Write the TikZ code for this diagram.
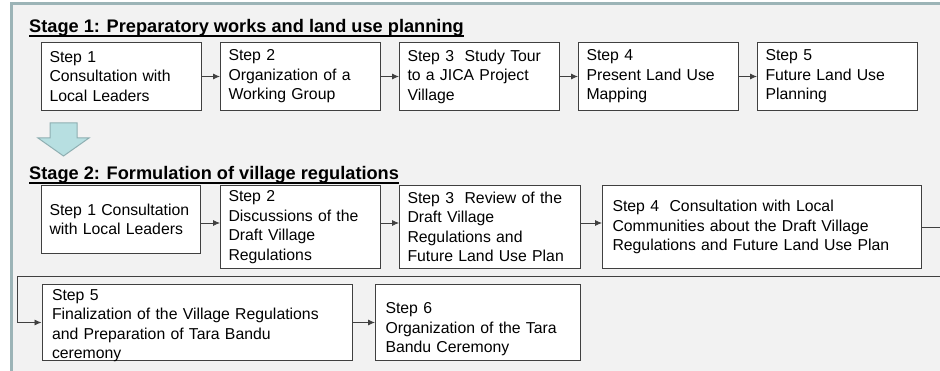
\documentclass[tikz,border=0pt]{standalone}
\usepackage{fontspec}
\setmainfont{Liberation Sans}
\newfontfamily\stepfont{Liberation Sans}
\usetikzlibrary{arrows.meta}
\definecolor{panelbg}{HTML}{F2F2F2}
\definecolor{panelframe}{HTML}{9CB4B7}
\definecolor{downfill}{HTML}{B7DFE1}
\definecolor{downline}{HTML}{8FAFB2}
\definecolor{boxline}{HTML}{404040}
\tikzset{
  stepbox/.style={draw=boxline, fill=white, line width=1pt, anchor=north west, align=left,
    inner xsep=8pt, inner ysep=0pt, font=\stepfont\fontsize{15.8}{19.5}\selectfont},
  stagetitle/.style={anchor=base west, inner sep=0pt, font=\bfseries\fontsize{18.2}{21}\selectfont},
  flow/.style={draw=boxline, line width=.8pt, -{Latex[length=7pt,width=6pt]}}
}
\begin{document}
\begin{tikzpicture}[x=1pt,y=-1pt]
  \useasboundingbox (0,0) rectangle (940,371);
  \fill[panelbg] (11.5,4) rectangle (950,380);
  \draw[panelframe,line width=3pt] (950,4) -- (11.5,4) -- (11.5,380);

  \node[stagetitle] (t1) at (29,33) {Stage 1: Preparatory works and land use planning};
  \draw[line width=1.3pt] ([yshift=-3pt]t1.base west) -- ([yshift=-3pt]t1.base east);

  \node[stepbox, text width=144pt, minimum height=68pt] (s1a) at (41,42) {Step 1\\Consultation with\\Local Leaders};
  \node[stepbox, text width=144pt, minimum height=68pt] (s1b) at (220,42) {Step 2\\Organization of a\\Working Group};
  \node[stepbox, text width=144pt, minimum height=68pt] (s1c) at (399,42) {Step 3~~Study Tour\\to a JICA Project\\Village};
  \node[stepbox, text width=144pt, minimum height=68pt] (s1d) at (578,42) {Step 4\\Present Land Use\\Mapping};
  \node[stepbox, text width=144pt, minimum height=68pt] (s1e) at (757,42) {Step 5\\Future Land Use\\Planning};
  \draw[flow] (s1a.east) -- (s1b.west);
  \draw[flow] (s1b.east) -- (s1c.west);
  \draw[flow] (s1c.east) -- (s1d.west);
  \draw[flow] (s1d.east) -- (s1e.west);

  \draw[downline, fill=downfill, line width=1pt] (50,123) -- (77,123) -- (77,138) -- (89,138)
    -- (63.5,156) -- (38,138) -- (50,138) -- cycle;

  \node[stagetitle] (t2) at (29,180) {Stage 2: Formulation of village regulations};
  \draw[line width=1.3pt] ([yshift=-3pt]t2.base west) -- ([yshift=-3pt]t2.base east);

  \coordinate (wrapR) at (960,276);
  \coordinate (wrapL) at (17,276);
  \coordinate (row2) at (0,223);

  \node[stepbox, text width=143pt, minimum height=68pt] (s2a) at (41,185) {Step 1 Consultation\\with Local Leaders};
  \node[stepbox, text width=144pt, minimum height=83pt] (s2b) at (220,185) {Step 2\\Discussions of the\\Draft Village\\Regulations};
  \node[stepbox, text width=165pt, minimum height=83pt] (s2c) at (399,185) {Step 3~~Review of the\\Draft Village\\Regulations and\\Future Land Use Plan};
  \node[stepbox, inner xsep=10pt, text width=299pt, minimum height=83pt] (s2d) at (602,185) {Step 4~~Consultation with Local\\Communities about the Draft Village\\Regulations and Future Land Use Plan};

  \node[stepbox, inner xsep=10pt, text width=290pt, minimum height=76pt, text depth=55.8pt] (s2e) at (41.5,284) {Step 5\\Finalization of the Village Regulations\\and Preparation of Tara Bandu\\ceremony};
  \node[stepbox, inner xsep=10pt, text width=185pt, minimum height=76pt, text depth=28.3pt] (s2f) at (375,284) {Step 6\\Organization of the Tara\\Bandu Ceremony};

  \draw[flow] (s2a.east |- row2) -- (s2b.west |- row2);
  \draw[flow] (s2b.east |- row2) -- (s2c.west |- row2);
  \draw[flow] (s2c.east |- row2) -- (s2d.west |- row2);
  \draw[flow] (s2d.east) -| (wrapR) -- (wrapL) |- (s2e.west);
  \draw[flow] (s2e.east) -- (s2f.west);
\end{tikzpicture}
\end{document}
